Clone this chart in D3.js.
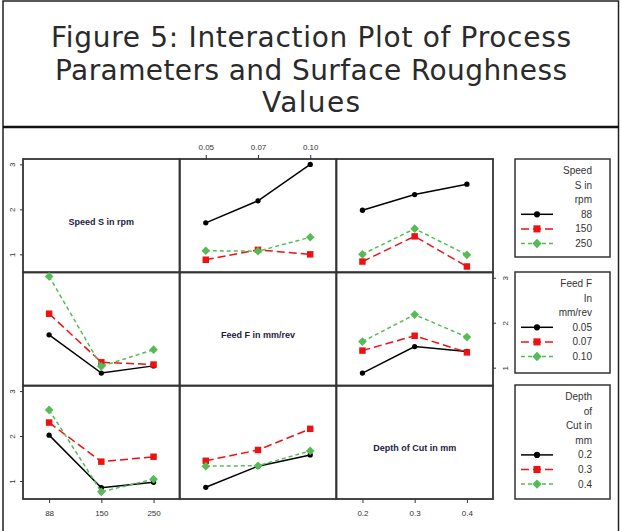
<!DOCTYPE html>
<html>
<head>
<meta charset="utf-8">
<script src="https://cdn.jsdelivr.net/npm/d3@7"></script>
<style>
  body { margin: 0; background: #fff; }
</style>
</head>
<body>
<div id="chart"></div>
<script>
// factor levels (x categories and line groups)
const speedLevels = ["88", "150", "250"];
const feedLevels = ["0.05", "0.07", "0.10"];
const depthLevels = ["0.2", "0.3", "0.4"];
const yTicks = [1, 2, 3];

// mean roughness, one row per level of the line factor, one value per x level
const speedByFeed = [[1.70, 2.19, 3.00], [0.88, 1.10, 1.00], [1.08, 1.07, 1.38]];
const speedByDepth = [[1.98, 2.33, 2.56], [0.84, 1.40, 0.73], [1.00, 1.57, 0.99]];
const feedBySpeed = [[1.73, 0.88, 1.04], [2.20, 1.12, 1.07], [3.03, 1.03, 1.40]];
const feedByDepth = [[0.88, 1.47, 1.36], [1.38, 1.71, 1.34], [1.58, 2.18, 1.68]];
const depthBySpeed = [[2.02, 0.85, 0.97], [2.30, 1.43, 1.54], [2.58, 0.76, 1.04]];
const depthByFeed = [[0.86, 1.33, 1.58], [1.45, 1.69, 2.16], [1.33, 1.34, 1.67]];

const factorNames = ["Speed S in rpm", "Feed F in mm/rev", "Depth of Cut in mm"];
const legendTitles = [["Speed", "S in", "rpm"], ["Feed F", "In", "mm/rev"], ["Depth", "of", "Cut in", "mm"]];
const titleLines = ["Figure 5: Interaction Plot of Process", "Parameters and Surface Roughness", "Values"];

const levels = [speedLevels, feedLevels, depthLevels];
const panels = [
  { row: 0, col: 1, values: speedByFeed },
  { row: 0, col: 2, values: speedByDepth },
  { row: 1, col: 0, values: feedBySpeed },
  { row: 1, col: 2, values: feedByDepth },
  { row: 2, col: 0, values: depthBySpeed },
  { row: 2, col: 1, values: depthByFeed }
];

const W = 622, H = 531;
const grid = { left: 23, top: 159, right: 493, bottom: 499 };
const cellW = (grid.right - grid.left) / 3;
const cellH = (grid.bottom - grid.top) / 3;

const colors = ["#000000", "#ee1111", "#55bb55"];
const dashes = [null, "8,4", "4,3"];
const symbols = [d3.symbolCircle, d3.symbolSquare, d3.symbolDiamond2];
const symSizes = [22, 42, 48];

const svg = d3.select("#chart").append("svg")
  .attr("width", W)
  .attr("height", H)
  .style("font-family", "'Liberation Sans', Arial, sans-serif");

// frame + title
svg.append("rect").attr("x", 3).attr("y", 1).attr("width", 615.5).attr("height", 540)
  .attr("fill", "none").attr("stroke", "#222").attr("stroke-width", 1.5);
svg.append("line").attr("x1", 3).attr("x2", 619).attr("y1", 127).attr("y2", 127)
  .attr("stroke", "#111").attr("stroke-width", 2.5);

const titleWidths = [520, 512, 98];
svg.append("g").selectAll("text")
  .data(titleLines)
  .join("text")
  .attr("x", 311)
  .attr("y", (d, i) => 47 + i * 32.7)
  .attr("text-anchor", "middle")
  .attr("textLength", (d, i) => titleWidths[i])
  .attr("lengthAdjust", "spacing")
  .style("font-family", "'DejaVu Sans', sans-serif")
  .style("font-size", "28px")
  .attr("fill", "#2a2a2a")
  .text(d => d);

const y = d3.scaleLinear().domain([0.6, 3.12]).range([cellH, 0]);

function xScale(col) {
  return d3.scalePoint().domain(levels[col]).range([0, cellW]).padding(0.5);
}

// panel grid
for (let r = 0; r < 3; r++) {
  for (let c = 0; c < 3; c++) {
    const g = svg.append("g")
      .attr("transform", `translate(${grid.left + c * cellW},${grid.top + r * cellH})`);
    g.append("rect")
      .attr("width", cellW).attr("height", cellH)
      .attr("fill", "none").attr("stroke", "#333").attr("stroke-width", 1.8);
    if (r === c) {
      g.append("text")
        .attr("x", cellW / 2).attr("y", cellH / 2 + 9)
        .attr("text-anchor", "middle")
        .style("font-size", "9px").style("font-weight", "bold")
        .attr("fill", "#1c1c40")
        .text(factorNames[r]);
    }
  }
}

// interaction lines
panels.forEach(p => {
  const x = xScale(p.col);
  const g = svg.append("g")
    .attr("transform", `translate(${grid.left + p.col * cellW},${grid.top + p.row * cellH})`);
  const line = d3.line().x((d, i) => x(levels[p.col][i])).y(d => y(d));
  p.values.forEach((vals, k) => {
    g.append("path")
      .attr("d", line(vals))
      .attr("fill", "none")
      .attr("stroke", colors[k])
      .attr("stroke-width", 1.5)
      .attr("stroke-dasharray", dashes[k]);
    g.selectAll(null)
      .data(vals)
      .join("path")
      .attr("transform", (d, i) => `translate(${x(levels[p.col][i])},${y(d)})`)
      .attr("d", d3.symbol(symbols[k], symSizes[k]))
      .attr("fill", colors[k]);
  });
});

// axes
function styleAxis(g) {
  g.select(".domain").remove();
  g.selectAll("line").attr("stroke", "#333");
  g.selectAll("text").style("font-size", "8px").attr("fill", "#333");
}

// left axis rows 0 and 2, right axis row 1 (labels rotated)
[0, 2].forEach(r => {
  const g = svg.append("g")
    .attr("transform", `translate(${grid.left},${grid.top + r * cellH})`)
    .call(d3.axisLeft(y).tickValues(yTicks).tickSize(3).tickFormat(d3.format("d")))
    .call(styleAxis);
  g.selectAll("text").attr("transform", "rotate(-90)")
    .attr("x", 0).attr("y", -8).attr("dy", 0).attr("text-anchor", "middle");
});
{
  const g = svg.append("g")
    .attr("transform", `translate(${grid.right},${grid.top + cellH})`)
    .call(d3.axisRight(y).tickValues(yTicks).tickSize(3).tickFormat(d3.format("d")))
    .call(styleAxis);
  g.selectAll("text").attr("transform", "rotate(-90)")
    .attr("x", 0).attr("y", 15).attr("dy", 0).attr("text-anchor", "middle");
}

// top axis for feed column
svg.append("g")
  .attr("transform", `translate(${grid.left + cellW},${grid.top})`)
  .call(d3.axisTop(xScale(1)).tickSize(4).tickPadding(5))
  .call(styleAxis);

// bottom axes for speed and depth columns
[0, 2].forEach(c => {
  svg.append("g")
    .attr("transform", `translate(${grid.left + c * cellW},${grid.bottom})`)
    .call(d3.axisBottom(xScale(c)).tickSize(4).tickPadding(7))
    .call(styleAxis);
});

// legends
const legendBoxes = [[159, 257], [272, 373], [385, 499]];
legendTitles.forEach((titles, r) => {
  const [top, bottom] = legendBoxes[r];
  const g = svg.append("g");
  g.append("rect")
    .attr("x", 515).attr("y", top)
    .attr("width", 95).attr("height", bottom - top)
    .attr("fill", "#fff").attr("stroke", "#333").attr("stroke-width", 1.5);
  const rows = titles.concat(levels[r]);
  const step = 14.6;
  rows.forEach((t, i) => {
    const ty = top + 15 + i * step;
    g.append("text")
      .attr("x", 592).attr("y", ty)
      .attr("text-anchor", "end")
      .style("font-size", "10px")
      .attr("fill", "#333")
      .text(t);
    const k = i - titles.length;
    if (k >= 0) {
      const cy = ty - 3.5;
      g.append("line")
        .attr("x1", 521).attr("x2", 553).attr("y1", cy).attr("y2", cy)
        .attr("stroke", colors[k]).attr("stroke-width", 1.5)
        .attr("stroke-dasharray", dashes[k]);
      g.append("path")
        .attr("transform", `translate(537,${cy})`)
        .attr("d", d3.symbol(symbols[k], symSizes[k] + 8))
        .attr("fill", colors[k]);
    }
  });
});
</script>
</body>
</html>
